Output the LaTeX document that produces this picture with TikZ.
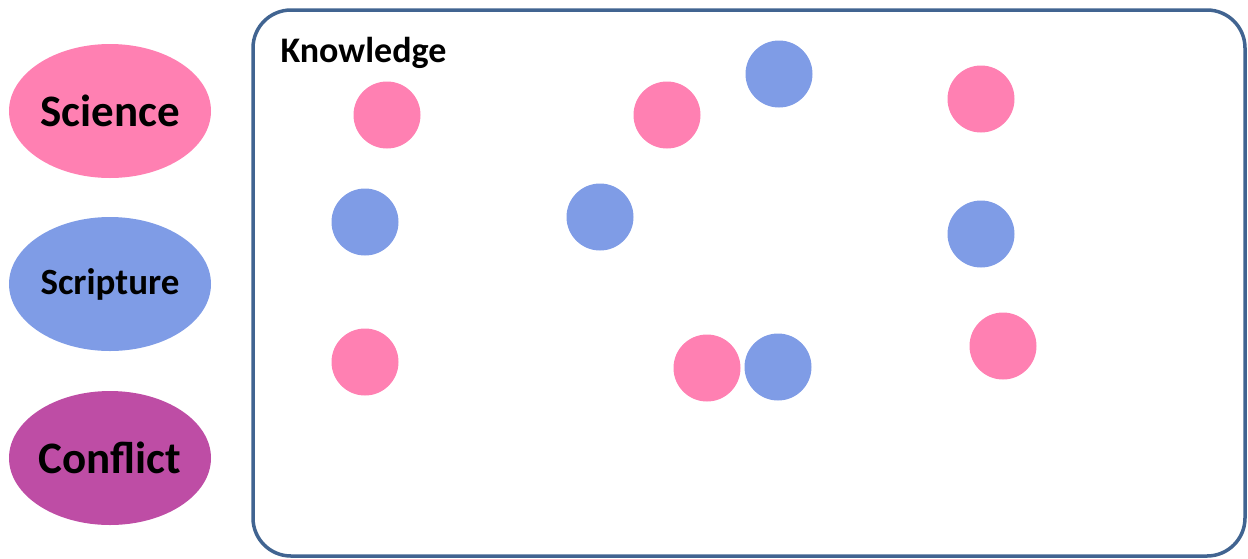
\documentclass[tikz,border=0pt]{standalone}
\usepackage{fontspec}
\setmainfont{Carlito}
\usetikzlibrary{shapes.geometric}
\definecolor{sci}{RGB}{255,128,178}
\definecolor{scr}{RGB}{127,156,230}
\definecolor{con}{RGB}{190,77,165}
\definecolor{frm}{RGB}{65,100,145}
\tikzset{
  legend/.style={ellipse, minimum width=202pt, minimum height=134pt, inner sep=0pt, font=\bfseries},
  dot/.style={circle, minimum size=67pt, inner sep=0pt},
  pinkdot/.style={dot, fill=sci},
  bluedot/.style={dot, fill=scr},
}
\begin{document}
\begin{tikzpicture}[x=1pt,y=-1pt]
\useasboundingbox (0,0) rectangle (1248,558);
\node[legend, fill=sci, font=\bfseries\fontsize{45}{50}\selectfont] (science) at (110,111) {Science};
\node[legend, fill=scr, font=\bfseries\fontsize{37}{42}\selectfont] (scripture) at (110,284) {Scripture};
\node[legend, fill=con, font=\bfseries\fontsize{45}{50}\selectfont] (conflict) at (110,458) {Conflict};
\draw[frm, line width=3.5pt, rounded corners=38pt] (253,10) rectangle (1245,556);
\node[anchor=west, font=\bfseries\fontsize{36}{40}\selectfont] (knowledge) at (277,53) {Knowledge};
\node[pinkdot] (p1) at (387,115) {};
\node[pinkdot] (p2) at (667,115) {};
\node[bluedot] (b1) at (779,74) {};
\node[pinkdot] (p3) at (981,99) {};
\node[bluedot] (b2) at (365,222) {};
\node[bluedot] (b3) at (600,217) {};
\node[bluedot] (b4) at (981,234) {};
\node[pinkdot] (p4) at (365,362) {};
\node[pinkdot] (p5) at (707,368) {};
\node[bluedot] (b5) at (778,367) {};
\node[pinkdot] (p6) at (1003,346) {};
\end{tikzpicture}
\end{document}
